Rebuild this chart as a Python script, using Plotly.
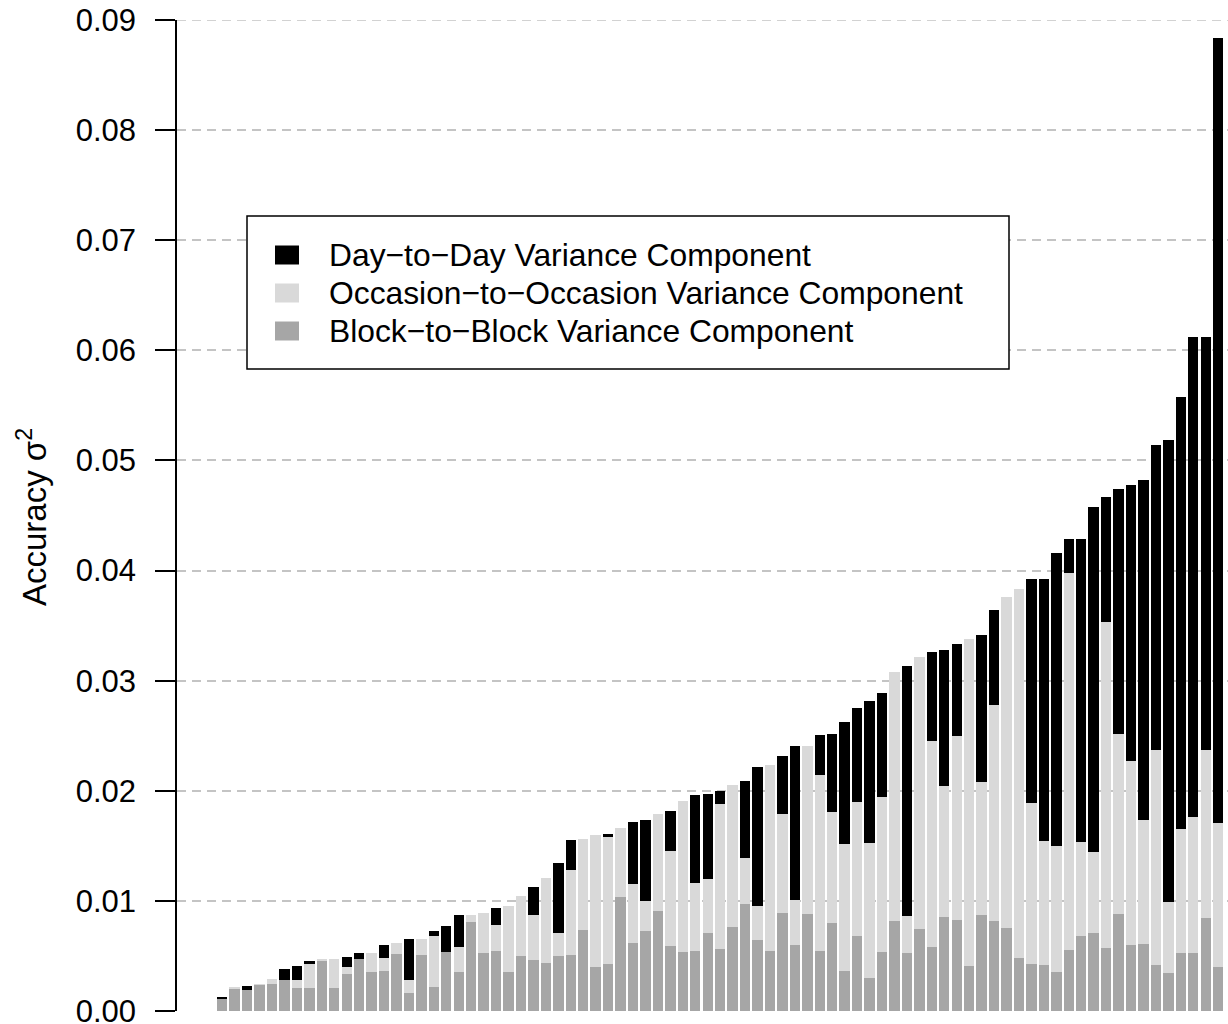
import plotly.graph_objects as go

# ---- data ----
block = [0.0011, 0.00203, 0.00188, 0.00242, 0.00242, 0.00279, 0.00206, 0.00206, 0.0046, 0.00206,
         0.00333, 0.0047, 0.00352, 0.0036, 0.00515, 0.00161, 0.00506, 0.00215, 0.00533, 0.00352,
         0.00806, 0.00524, 0.00542, 0.00352, 0.00497, 0.00461, 0.00433, 0.00497, 0.00506, 0.00733,
         0.00397, 0.00424, 0.01033, 0.00615, 0.00724, 0.00906, 0.00588, 0.00533, 0.00542, 0.00706,
         0.00561, 0.00761, 0.0097, 0.00642, 0.00542, 0.00888, 0.00597, 0.00879, 0.00542, 0.00797,
         0.00361, 0.00679, 0.00297, 0.00533, 0.00818, 0.0053, 0.00747, 0.00583, 0.00854, 0.00829,
         0.00408, 0.00875, 0.00818, 0.00754, 0.00483, 0.0043, 0.00419, 0.0035, 0.00555, 0.00679,
         0.00708, 0.00571, 0.00877, 0.006, 0.00608, 0.00418, 0.00344, 0.00526, 0.00526, 0.00844,
         0.00397]
occasion = [0.00005, 0.00007, 0.0, 0.00003, 0.00046, 0.0, 0.00073, 0.00218, 0.0001, 0.0027,
            0.00064, 0.0, 0.00175, 0.00119, 0.00106, 0.00118, 0.00152, 0.00464, 0.0, 0.00227,
            0.00067, 0.0037, 0.00237, 0.00606, 0.00543, 0.00409, 0.00779, 0.00215, 0.00773, 0.00825,
            0.01197, 0.01164, 0.00628, 0.00537, 0.00273, 0.00879, 0.00864, 0.0137, 0.00619, 0.00491,
            0.01318, 0.01287, 0.00418, 0.0031, 0.01688, 0.009, 0.00409, 0.01524, 0.016, 0.01009,
            0.01154, 0.01218, 0.01227, 0.01409, 0.02257, 0.00334, 0.02471, 0.01872, 0.01191, 0.01672,
            0.02966, 0.01209, 0.01965, 0.03002, 0.03351, 0.01461, 0.01126, 0.01153, 0.03419, 0.00852,
            0.00732, 0.0296, 0.01635, 0.01668, 0.01126, 0.0195, 0.00645, 0.01125, 0.01233, 0.01524,
            0.01308]
day = [0.00012, 0.0, 0.00039, 0.0, 0.0, 0.001, 0.00127, 0.00028, 0.0, 0.0,
       0.00091, 0.00054, 0.0, 0.00118, 0.0, 0.00373, 0.0, 0.00045, 0.00237, 0.00291,
       0.0, 0.0, 0.00154, 0.0, 0.0, 0.00254, 0.0, 0.0063, 0.00273, 0.0,
       0.0, 0.00018, 0.0, 0.00563, 0.00736, 0.0, 0.00363, 0.0, 0.008, 0.00773,
       0.00121, 0.0, 0.007, 0.01263, 0.0, 0.00527, 0.014, 0.0, 0.00364, 0.00709,
       0.01109, 0.00855, 0.01291, 0.00946, 0.0, 0.02272, 0.0, 0.00802, 0.01237, 0.00834,
       0.0, 0.01333, 0.00855, 0.0, 0.0, 0.02029, 0.02375, 0.0266, 0.0031, 0.02753,
       0.03134, 0.01134, 0.02227, 0.02513, 0.03084, 0.02769, 0.04201, 0.03929, 0.04359, 0.0375,
       0.07135]
units = list(range(1, len(block) + 1))

series_names = ["Block\u2212to\u2212Block Variance Component",
                "Occasion\u2212to\u2212Occasion Variance Component",
                "Day\u2212to\u2212Day Variance Component"]
series_colors = ["#A6A6A6", "#D9D9D9", "#000000"]
tick_vals = [0.00, 0.01, 0.02, 0.03, 0.04, 0.05, 0.06, 0.07, 0.08, 0.09]
tick_text = ["0.00", "0.01", "0.02", "0.03", "0.04", "0.05", "0.06", "0.07", "0.08", "0.09"]
y_title = "Accuracy \u03c3<sup>2</sup>"

# ---- figure ----
W, H = 1228, 1024
ML, MR, MT, MB = 177, 0, 20, 13
FONT = "Liberation Sans, Arial, Helvetica, sans-serif"
GRID_COLOR = "#C4C4C4"
GRID_DASH = "9px,6px"

fig = go.Figure()
for vals, name, col in zip([block, occasion, day], series_names, series_colors):
    fig.add_trace(go.Bar(x=units, y=vals, name=name, marker=dict(color=col, line=dict(width=0)),
                         showlegend=False))

pw, ph = W - ML - MR, H - MT - MB


def px_x(p):
    return (p - ML) / pw


def px_y(p):
    return (H - MB - p) / ph


shapes = []
annotations = []
# gridline at the top tick (plotly omits grid at the range edge)
shapes.append(dict(type="line", xref="paper", yref="y", x0=0, x1=1, y0=tick_vals[-1], y1=tick_vals[-1],
                   line=dict(color=GRID_COLOR, width=1.5, dash=GRID_DASH), layer="below"))
# legend box
shapes.append(dict(type="rect", xref="paper", yref="paper",
                   x0=px_x(247), x1=px_x(1009), y0=px_y(369), y1=px_y(216),
                   line=dict(color="black", width=1.5), fillcolor="white", layer="above"))
legend_order = [2, 1, 0]
row_y = [255, 293, 331]
for ry, idx in zip(row_y, legend_order):
    shapes.append(dict(type="rect", xref="paper", yref="paper",
                       x0=px_x(275), x1=px_x(299), y0=px_y(ry + 9.5), y1=px_y(ry - 9.5),
                       line=dict(width=0), fillcolor=series_colors[idx], layer="above"))
    annotations.append(dict(xref="paper", yref="paper", x=px_x(327), y=px_y(ry),
                            xanchor="left", yanchor="middle", showarrow=False,
                            text=series_names[idx], font=dict(size=31.8, color="black", family=FONT)))

# y-axis title
annotations.append(dict(xref="paper", yref="paper", x=px_x(32), y=px_y(517),
                        xanchor="center", yanchor="middle", showarrow=False, textangle=-90,
                        text=y_title, font=dict(size=33, color="black", family=FONT)))

fig.update_layout(
    width=W, height=H,
    margin=dict(l=ML, r=MR, t=MT, b=MB, pad=0, autoexpand=False),
    paper_bgcolor="white", plot_bgcolor="white",
    barmode="stack", bargap=0.2 / 1.2,
    font=dict(family=FONT, color="black"),
    shapes=shapes, annotations=annotations,
    xaxis=dict(visible=False, range=[-2.63, 81.79], fixedrange=True, automargin=False),
    yaxis=dict(range=[0, 0.09], tickvals=tick_vals, ticktext=tick_text, automargin=False,
               showline=True, linecolor="black", linewidth=1.5,
               ticks="outside", ticklen=20, tickwidth=1.5, tickcolor="black",
               ticklabelstandoff=13, ticklabeloverflow="allow",
               tickfont=dict(size=31, color="black", family=FONT),
               showgrid=True, gridcolor=GRID_COLOR, gridwidth=1.5, griddash=GRID_DASH,
               zeroline=False, fixedrange=True),
)

fig.write_html("out.html", config={"displayModeBar": False})
